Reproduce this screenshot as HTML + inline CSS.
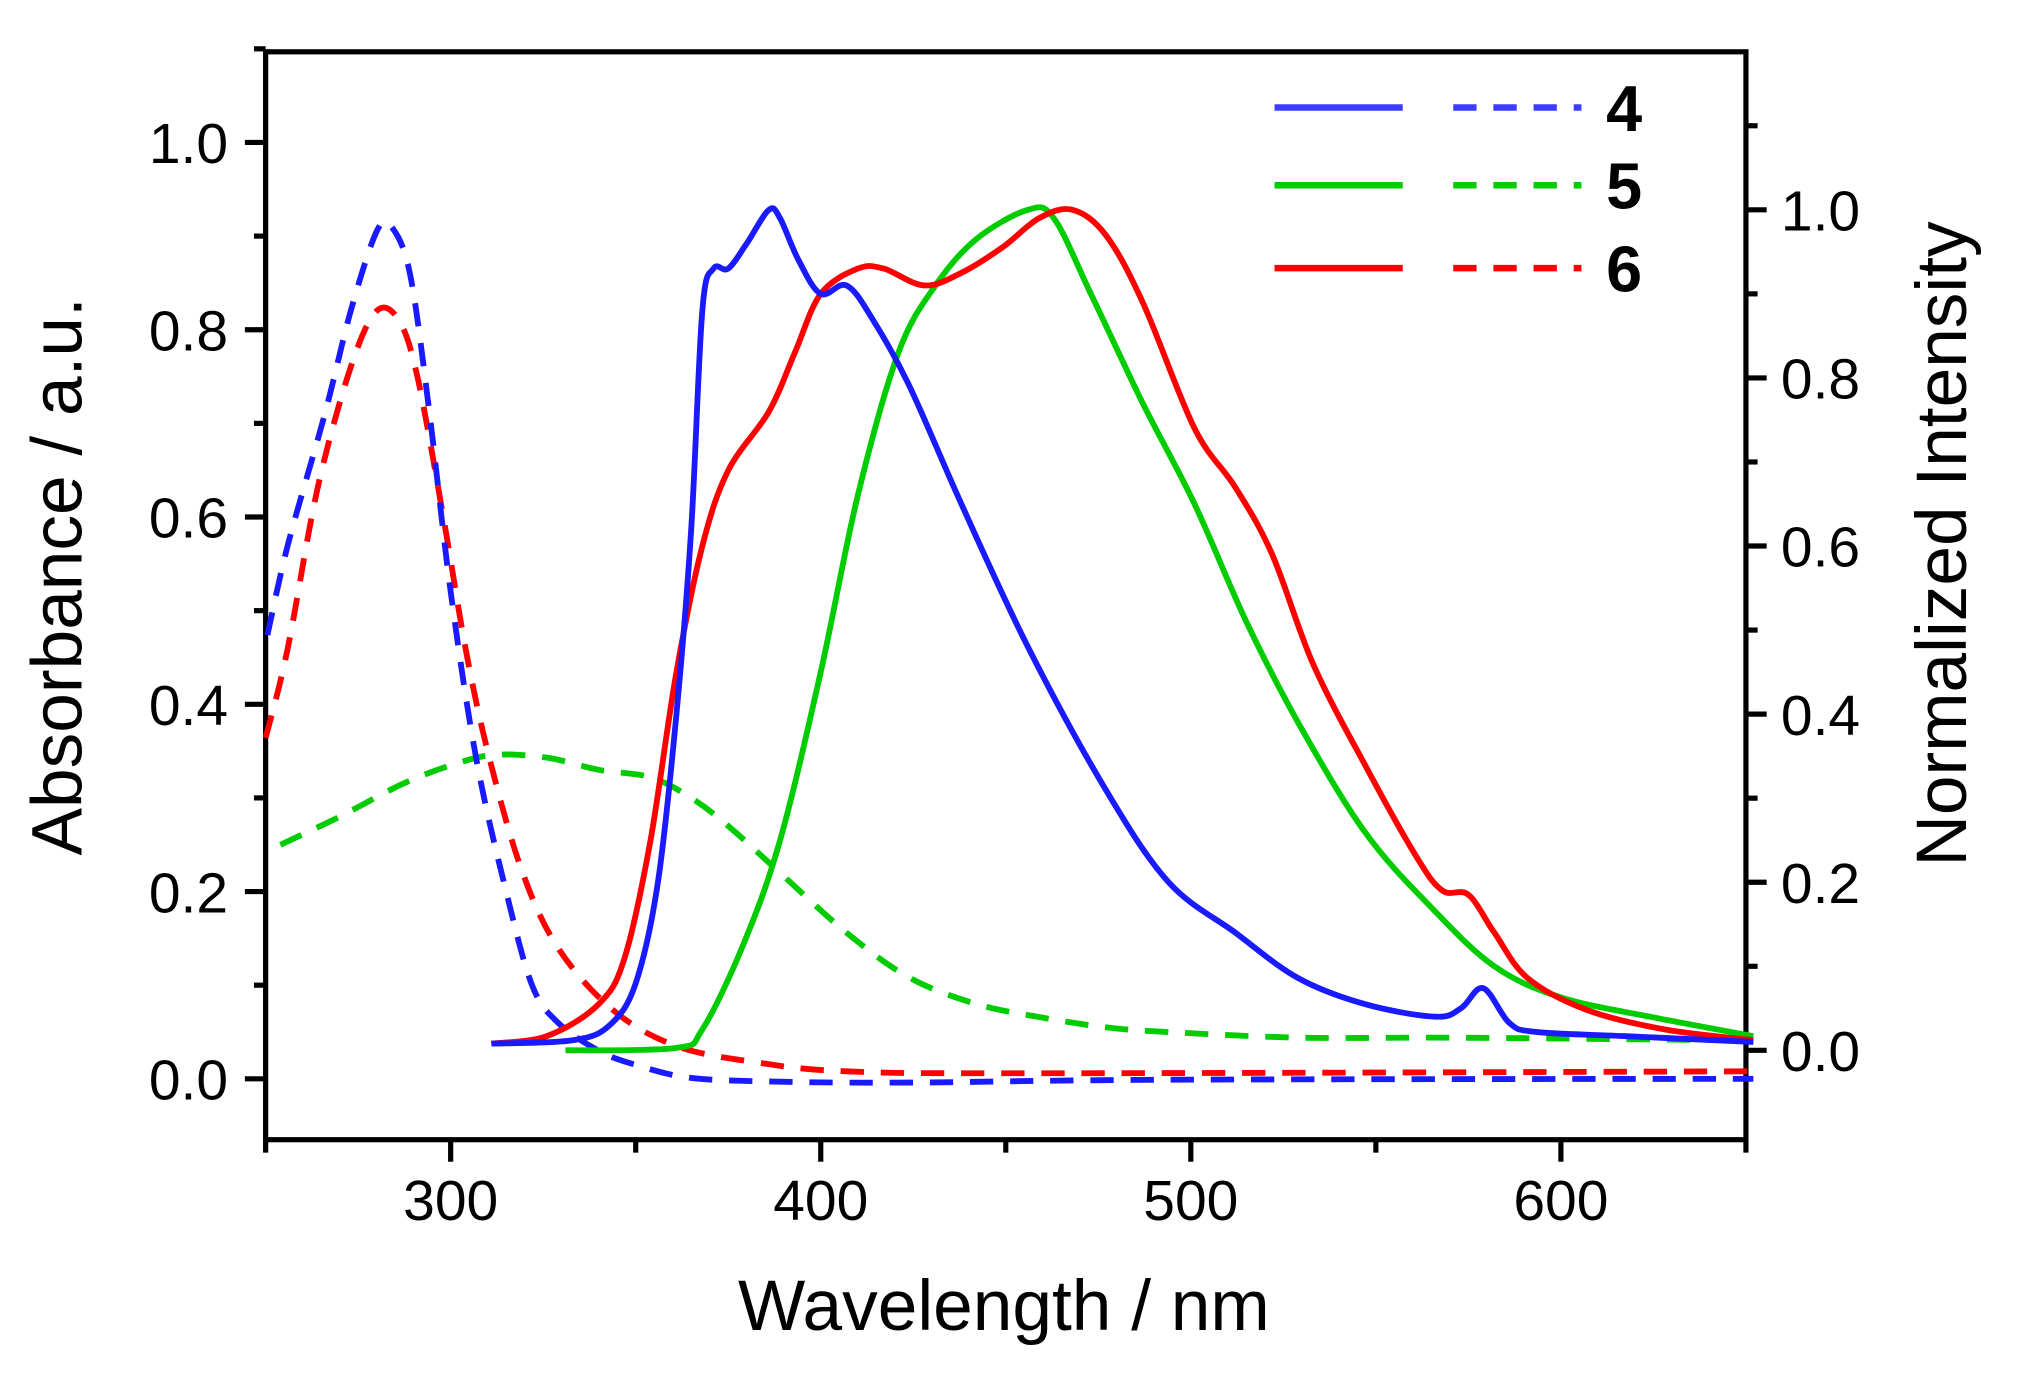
<!DOCTYPE html>
<html><head><meta charset="utf-8"><style>
html,body{margin:0;padding:0;background:#fff;}
svg{display:block;font-family:"Liberation Sans",Arial,sans-serif;}
</style></head><body>
<svg id="chart" width="2031" height="1378" viewBox="0 0 1568 1064" xmlns="http://www.w3.org/2000/svg">
<g id="axes"></g>
<g id="series"></g>
<g id="legend"></g>
</svg>
<script>
// ---- data ----
const xTicks = [300, 400, 500, 600];
const xMinorTicks = [250, 350, 450, 550, 650];
const leftTicks = [0.0, 0.2, 0.4, 0.6, 0.8, 1.0];
const rightTicks = [0.0, 0.2, 0.4, 0.6, 0.8, 1.0];
const legendLabels = ["4", "5", "6"];

const em4X = [311,333,343,350,356,361,365,368,371,375,380,386,389,394,400,407,414,424,438,456,477,494,512,529,547,566,573,579,586,593,617,652];
const em4Y = [0.008,0.012,0.03,0.08,0.2,0.40,0.62,0.88,0.93,0.93,0.96,1.0,0.99,0.94,0.90,0.91,0.87,0.79,0.65,0.48,0.31,0.20,0.14,0.086,0.055,0.04,0.05,0.074,0.033,0.022,0.017,0.01];

const em5X = [331,361,368,379,389,400,410,421,431,442,456,463,473,487,501,515,529,547,565,582,600,624,652];
const em5Y = [0,0.003,0.025,0.125,0.25,0.45,0.66,0.83,0.91,0.965,1.0,0.99,0.9,0.77,0.65,0.51,0.39,0.26,0.17,0.10,0.063,0.04,0.017];

const em6X = [311,326,340,347,354,361,368,375,386,393,400,410,417,428,438,449,459,468,477,487,501,512,522,533,547,561,568,575,582,591,607,628,652];
const em6Y = [0.008,0.017,0.055,0.11,0.25,0.45,0.6,0.69,0.76,0.83,0.90,0.93,0.93,0.91,0.925,0.955,0.99,1.0,0.97,0.89,0.74,0.67,0.59,0.46,0.34,0.23,0.19,0.185,0.14,0.086,0.048,0.025,0.012];

const ab4X = [250.5,256,266,273,280,284,289,294,300,307,315,322,329,340,350,365,389,424,494,652];
const ab4Y = [0.474,0.57,0.71,0.82,0.905,0.91,0.86,0.72,0.52,0.34,0.20,0.10,0.06,0.03,0.015,0.001,-0.003,-0.004,-0.001,0.0];

const ab5X = [254,270,287,301,312,326,340,354,365,375,389,407,424,442,459,477,494,529,565,600,652];
const ab5Y = [0.25,0.28,0.315,0.336,0.346,0.343,0.33,0.322,0.30,0.27,0.22,0.156,0.108,0.08,0.066,0.055,0.05,0.044,0.044,0.043,0.041];

const ab6X = [250,256,264,273,280,286,291,298,304,310,319,329,344,361,382,407,459,652];
const ab6Y = [0.364,0.46,0.63,0.76,0.82,0.81,0.75,0.60,0.46,0.35,0.225,0.14,0.073,0.035,0.018,0.008,0.006,0.008];

// ---- scales (viewBox units) ----
const X0 = 205, X1 = 1348, TOP = 40, BOT = 880;
const xs = v => X0 + (v - 250) / 400 * (X1 - X0);
const yl = v => 833 - v * 723;
const yr = v => 811 - v * 649;
const NS = "http://www.w3.org/2000/svg";
function mk(tag, attrs, parent) {
  const e = document.createElementNS(NS, tag);
  for (const k in attrs) e.setAttribute(k, attrs[k]);
  parent.appendChild(e);
  return e;
}
const axes = document.getElementById('axes');
const series = document.getElementById('series');
const legend = document.getElementById('legend');
const AW = 4;

let fr = mk('rect', {x: X0, y: TOP, width: X1 - X0, height: BOT - TOP, fill: 'none', stroke: '#000', 'stroke-width': AW}, axes);



xTicks.forEach(t => {
  const l = mk('line', {x1: xs(t), x2: xs(t), y1: BOT, y2: BOT + 17, stroke: '#000', 'stroke-width': AW}, axes);
  
  
  const tx = mk('text', {x: xs(t), y: 942, 'font-size': 44, 'text-anchor': 'middle'}, axes);
  tx.textContent = t;
  
  
});
xMinorTicks.forEach(t => {
  const l = mk('line', {x1: xs(t), x2: xs(t), y1: BOT, y2: BOT + 10, stroke: '#000', 'stroke-width': AW}, axes);
  
  
});
leftTicks.forEach(t => {
  const l = mk('line', {x1: X0 - 16, x2: X0, y1: yl(t), y2: yl(t), stroke: '#000', 'stroke-width': AW}, axes);
  
  
  const tx = mk('text', {x: 176, y: yl(t) + 16, 'font-size': 44, 'text-anchor': 'end'}, axes);
  tx.textContent = t.toFixed(1);
  
  
});
for (let v = 0.1; v < 1.1; v += 0.2) {
  const l = mk('line', {x1: X0 - 9, x2: X0, y1: yl(v), y2: yl(v), stroke: '#000', 'stroke-width': AW}, axes);
  
  
}
rightTicks.forEach(t => {
  const l = mk('line', {x1: X1, x2: X1 + 16, y1: yr(t), y2: yr(t), stroke: '#000', 'stroke-width': AW}, axes);
  
  
  const tx = mk('text', {x: 1375, y: yr(t) + 16, 'font-size': 44}, axes);
  tx.textContent = t.toFixed(1);
  
  
});
for (let v = 0.1; v < 1.2; v += 0.2) {
  const l = mk('line', {x1: X1, x2: X1 + 9, y1: yr(v), y2: yr(v), stroke: '#000', 'stroke-width': AW}, axes);
  
  
}
let t1 = mk('text', {x: 775, y: 1027, 'font-size': 55, 'text-anchor': 'middle'}, axes);
t1.textContent = 'Wavelength / nm';


let t2 = mk('text', {x: 0, y: 0, 'font-size': 55, 'text-anchor': 'middle', transform: 'translate(63,445) rotate(-90)'}, axes);
t2.textContent = 'Absorbance / a.u.';


let t3 = mk('text', {x: 0, y: 0, 'font-size': 55, 'text-anchor': 'middle', transform: 'translate(1518,420) rotate(-90)'}, axes);
t3.textContent = 'Normalized Intensity';



function pathFor(X, Y, yf) {
  const p = X.map((x, i) => [xs(x), yf(Y[i])]);
  let d = 'M' + p[0][0].toFixed(1) + ',' + p[0][1].toFixed(1);
  for (let i = 0; i < p.length - 1; i++) {
    const a = p[Math.max(0, i - 1)], b = p[i], c = p[i + 1], e = p[Math.min(p.length - 1, i + 2)];
    const c1 = [b[0] + (c[0] - a[0]) / 6, b[1] + (c[1] - a[1]) / 6];
    const c2 = [c[0] - (e[0] - b[0]) / 6, c[1] - (e[1] - b[1]) / 6];
    d += ' C' + c1[0].toFixed(1) + ',' + c1[1].toFixed(1) + ' ' + c2[0].toFixed(1) + ',' + c2[1].toFixed(1) + ' ' + c[0].toFixed(1) + ',' + c[1].toFixed(1);
  }
  return d;
}
const BLUE = '#1a1aff', GREEN = '#00cc00', RED = '#ff0000', DASH = '18 13';
function addSeries(X, Y, yf, color, dashed, name) {
  const attrs = {d: pathFor(X, Y, yf), fill: 'none', stroke: color, 'stroke-width': 4.5, 'stroke-linejoin': 'round'};
  if (dashed) attrs['stroke-dasharray'] = DASH;
  const e = mk('path', attrs, series);
  
  
}
addSeries(ab5X, ab5Y, yl, GREEN, true, 'absorption-5');
addSeries(ab6X, ab6Y, yl, RED, true, 'absorption-6');
addSeries(ab4X, ab4Y, yl, BLUE, true, 'absorption-4');
addSeries(em5X, em5Y, yr, GREEN, false, 'emission-5');
addSeries(em6X, em6Y, yr, RED, false, 'emission-6');
addSeries(em4X, em4Y, yr, BLUE, false, 'emission-4');

const lc = ['#3c3cff', GREEN, RED];
const ly = [83, 143, 207];
legendLabels.forEach((lab, i) => {
  const s = mk('line', {x1: 984, x2: 1083, y1: ly[i], y2: ly[i], stroke: lc[i], 'stroke-width': 5}, legend);
  
  
  const d = mk('line', {x1: 1122, x2: 1221, y1: ly[i], y2: ly[i], stroke: lc[i], 'stroke-width': 5, 'stroke-dasharray': DASH}, legend);
  
  
  const t = mk('text', {x: 1240, y: ly[i] + 18, 'font-size': 50, 'font-weight': 'bold'}, legend);
  t.textContent = lab;
  
  
});
</script>
</body></html>
